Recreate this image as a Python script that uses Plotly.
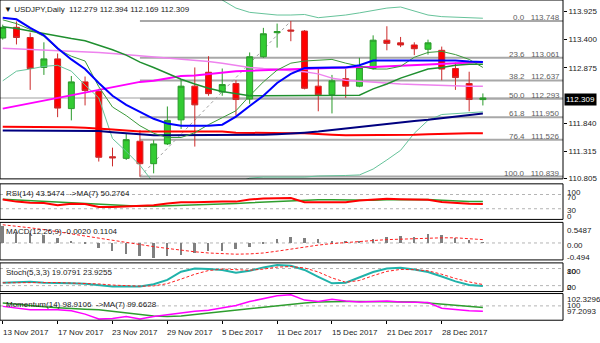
import plotly.graph_objects as go
from plotly.subplots import make_subplots

# ---------------- data ----------------
date_ticks = [0, 4, 8, 12, 16, 20, 24, 28, 32]
date_labels = ["13 Nov 2017", "17 Nov 2017", "23 Nov 2017", "29 Nov 2017", "5 Dec 2017",
               "11 Dec 2017", "15 Dec 2017", "21 Dec 2017", "28 Dec 2017"]

opens = [113.43, 113.63, 113.44, 112.88, 113.04, 112.11, 112.61, 112.43, 111.21, 111.18,
         111.50, 111.08, 111.45, 111.90, 112.53, 112.79, 112.42, 112.58, 112.29, 113.08,
         113.53, 113.58, 113.56, 112.53, 112.37, 112.67, 112.53, 112.86, 113.39, 113.34,
         113.30, 113.22, 113.20, 112.86, 112.58, 112.279]
highs = [113.68, 113.74, 113.53, 113.35, 113.14, 112.72, 112.71, 112.48, 111.38, 111.64,
         111.71, 111.52, 112.15, 112.66, 112.88, 113.09, 112.86, 112.64, 113.16, 113.62,
         113.70, 113.748, 113.58, 112.88, 112.74, 112.85, 113.06, 113.48, 113.65, 113.45,
         113.35, 113.40, 113.27, 112.97, 112.80, 112.394]
lows = [113.40, 113.31, 112.46, 112.74, 111.95, 111.89, 112.17, 111.12, 111.03, 111.15,
        110.839, 110.90, 111.43, 111.73, 111.40, 112.35, 112.35, 111.98, 112.20, 113.06,
        113.25, 113.37, 112.47, 112.06, 112.02, 112.31, 112.51, 112.84, 113.20, 113.26,
        113.11, 113.12, 112.64, 112.46, 112.06, 112.169]
closes = [113.63, 113.44, 112.86, 113.04, 112.12, 112.61, 112.45, 111.20, 111.19, 111.53,
          111.08, 111.45, 111.89, 112.53, 112.18, 112.39, 112.56, 112.28, 113.08, 113.51,
          113.55, 113.56, 112.49, 112.37, 112.63, 112.53, 112.88, 113.39, 113.33, 113.30,
          113.23, 113.34, 112.85, 112.69, 112.28, 112.309]

ma_blue = [113.81, 113.78, 113.62, 113.48, 113.24, 113.03, 112.85, 112.59, 112.35, 112.18,
           112.05, 111.92, 111.83, 111.79, 111.79, 111.79, 111.81, 111.96, 112.16, 112.35,
           112.59, 112.76, 112.87, 112.88, 112.88, 112.88, 112.92, 113.01, 113.01, 113.00,
           113.00, 113.01, 113.01, 113.01, 112.99, 112.98]
ma_thin_green = [113.77, 113.70, 113.59, 113.46, 113.22, 113.09, 113.00, 112.52, 112.14, 111.98,
                 111.79, 111.65, 111.57, 111.57, 111.66, 111.81, 111.94, 112.07, 112.35, 112.61,
                 112.83, 112.96, 113.00, 113.01, 113.03, 112.96, 112.90, 112.85, 112.85, 112.90,
                 113.07, 113.16, 113.18, 113.12, 113.03, 112.88]
bb_mid = [113.64, 113.61, 113.56, 113.51, 113.47, 113.42, 113.38, 113.30, 113.21, 113.11,
          112.98, 112.88, 112.77, 112.66, 112.57, 112.49, 112.43, 112.39, 112.35, 112.35,
          112.35, 112.35, 112.35, 112.35, 112.35, 112.35, 112.36, 112.48, 112.57, 112.68,
          112.77, 112.85, 112.88, 112.92, 112.94, 112.94]
bb_upper = [114.60, 114.45, 114.35, 114.30, 114.28, 114.30, 114.35, 114.45, 114.75, 114.95,
            115.00, 115.10, 115.05, 114.95, 114.80, 114.50, 114.14, 113.99, 113.91, 113.88,
            113.86, 113.86, 113.87, 113.81, 113.83, 113.86, 113.90, 113.95, 113.99, 114.01,
            113.94, 113.86, 113.83, 113.82, 113.81, 113.80]
bb_lower = [112.63, 112.81, 112.85, 112.90, 112.92, 112.81, 112.55, 112.31, 111.55, 111.31,
            111.05, 110.72, 110.53, 110.44, 110.41, 110.44, 110.53, 110.72, 110.81, 110.83,
            110.83, 110.83, 110.83, 110.85, 110.85, 110.86, 110.87, 110.98, 111.15, 111.33,
            111.65, 111.89, 112.00, 112.02, 112.04, 112.05]
ma_violet = [113.24, 113.23, 113.22, 113.21, 113.20, 113.19, 113.18, 113.16, 113.14, 113.12,
             113.10, 113.08, 113.06, 113.03, 113.01, 112.99, 112.96, 112.92, 112.88, 112.86,
             112.85, 112.82, 112.80, 112.76, 112.68, 112.64, 112.62, 112.60, 112.58, 112.57,
             112.56, 112.55, 112.55, 112.54, 112.53, 112.53]
ma_magenta = [112.11, 112.16, 112.22, 112.27, 112.32, 112.37, 112.41, 112.46, 112.52, 112.57,
              112.61, 112.63, 112.68, 112.72, 112.73, 112.76, 112.79, 112.81, 112.82, 112.83,
              112.84, 112.85, 112.85, 112.86, 112.87, 112.88, 112.89, 112.89, 112.90, 112.92,
              112.93, 112.94, 112.95, 112.96, 112.97, 112.98]
ma_red = [111.77, 111.77, 111.77, 111.77, 111.77, 111.76, 111.75, 111.74, 111.72, 111.70,
          111.68, 111.68, 111.68, 111.68, 111.68, 111.68, 111.68, 111.66, 111.655, 111.65,
          111.65, 111.65, 111.65, 111.63, 111.62, 111.61, 111.61, 111.61, 111.61, 111.615,
          111.62, 111.63, 111.64, 111.65, 111.65, 111.65]
ma_navy = [111.70, 111.70, 111.70, 111.70, 111.70, 111.70, 111.70, 111.69, 111.67, 111.65,
           111.62, 111.61, 111.61, 111.61, 111.61, 111.61, 111.61, 111.61, 111.61, 111.62,
           111.63, 111.64, 111.66, 111.68, 111.71, 111.74, 111.77, 111.79, 111.82, 111.85,
           111.88, 111.90, 111.93, 111.96, 111.99, 112.02]

fib_levels = [0.0, 23.6, 38.2, 50.0, 61.8, 76.4, 100.0]
fib_prices = [113.748, 113.061, 112.637, 112.293, 111.950, 111.526, 110.839]
price_ticks = [113.925, 113.400, 112.875, 111.840, 111.315, 110.805]

rsi = [56, 50, 47, 46, 40, 44, 43, 35, 35, 36, 37, 40, 45, 48, 48, 50, 50, 50, 56, 59,
       60, 60, 48.5, 48, 49, 48.5, 53, 56, 58, 57, 56, 55, 49, 46, 44, 43.5474]
rsi_ma = [57, 55, 53, 50, 47, 45, 43, 41, 39, 38, 37, 37, 38, 39, 40, 41, 43, 45, 47, 49,
          51, 53, 54, 55, 55, 54, 53, 54, 55, 56, 57, 56, 54, 52, 50.5, 50.2764]

macd_main = [0.5487, 0.31, 0.31, 0.25, 0.15, 0.05, -0.03, -0.18, -0.29, -0.37, -0.43, -0.494,
             -0.45, -0.40, -0.34, -0.29, -0.27, -0.21, -0.13, -0.02, 0.12, 0.20, 0.15, 0.11,
             0.06, 0.02, 0.06, 0.12, 0.19, 0.23, 0.20, 0.28, 0.24, 0.15, 0.07, -0.0020]
macd_signal = [0.60, 0.56, 0.50, 0.44, 0.37, 0.30, 0.22, 0.14, 0.07, 0.01, -0.06, -0.12,
               -0.18, -0.24, -0.29, -0.33, -0.36, -0.37, -0.36, -0.33, -0.27, -0.20, -0.13,
               -0.07, -0.02, 0.02, 0.05, 0.08, 0.11, 0.13, 0.15, 0.16, 0.17, 0.17, 0.15, 0.1104]

stoch_k = [30, 32, 34, 30, 28, 28, 27, 22, 17, 17, 17, 25, 40, 69, 80, 78, 75, 65, 72, 84,
           92, 90, 75, 51, 28, 30, 48, 68, 80, 83, 77, 68, 52, 35, 22, 19.0791]
stoch_d = [30, 30, 31, 32, 31, 29, 28, 26, 22, 19, 18, 19, 27, 43, 60, 73, 78, 76, 74, 78,
           85, 87, 82, 68, 47, 32, 38, 55, 70, 77, 76, 72, 60, 45, 33, 23.9255]

momentum = [99.9, 99.5, 99.2, 99.2, 99.2, 99.0, 98.3, 97.3, 97.4, 97.8, 97.3, 97.8, 98.2,
            98.6, 98.9, 99.1, 99.6, 100.1, 100.9, 101.5, 102.1, 102.3, 101.2, 100.9, 101.4,
            101.0, 100.8, 100.9, 101.0, 100.8, 100.7, 100.7, 99.5, 99.2, 99.0, 98.9106]
momentum_ma = [100.6, 100.3, 100.0, 99.8, 99.6, 99.4, 99.3, 99.2, 98.9, 98.5, 98.2, 97.9,
               97.8, 97.9, 98.2, 98.5, 98.9, 99.2, 99.5, 99.8, 100.1, 100.4, 100.6, 100.8,
               100.9, 100.9, 100.9, 100.9, 100.9, 100.9, 100.8, 100.6, 100.4, 100.1, 99.9, 99.6628]

bars = list(range(len(closes)))

# ---------------- geometry helpers ----------------
W, H = 600, 343
FONT = "Liberation Sans, Arial, sans-serif"
TXT = "#1a1a1a"
X_RANGE = [-0.2, 40.84]
LABEL_SHIFT = -3  # nudges middle-anchored labels onto their row


def py(px):
    """Pixel row -> paper y."""
    return 1 - px / H


panels = {  # top px, bottom px
    1: (0, 181),
    2: (186, 222),
    3: (225, 263),
    4: (266, 295),
    5: (297, 324),
}

fig = make_subplots(rows=5, cols=1, shared_xaxes=True, vertical_spacing=0)


def line(y, color, width, row, dash=None):
    fig.add_trace(go.Scatter(x=bars, y=y, mode="lines", hoverinfo="skip",
                             line=dict(color=color, width=width, dash=dash)),
                  row=row, col=1)


# ---- price panel ----
fig.add_trace(go.Candlestick(
    x=bars, open=opens, high=highs, low=lows, close=closes,
    increasing=dict(line=dict(color="#2a9a2a", width=1), fillcolor="#33cc33"),
    decreasing=dict(line=dict(color="#cc2a2a", width=1), fillcolor="#ff0000"),
    whiskerwidth=0, hoverinfo="skip"), row=1, col=1)

line(bb_upper, "#66c39a", 1, 1)
line(bb_lower, "#66c39a", 1, 1)
line(ma_violet, "#ee82ee", 1.5, 1)
line(ma_magenta, "#ff00ff", 2, 1)
line(ma_red, "#ff0000", 2, 1)
line(ma_navy, "#000080", 2, 1)
line(bb_mid, "#1f8f2f", 1.5, 1)
line(ma_thin_green, "#3a9a3a", 1, 1)
line(ma_blue, "#0000ff", 2, 1)

# ---- RSI ----
line(rsi_ma, "#2e9e2e", 1.5, 2)
line(rsi, "#ff0000", 2, 2)

# ---- MACD ----
fig.add_trace(go.Bar(x=bars, y=macd_main, width=0.14, marker=dict(color="#808080", line=dict(width=0)),
                     hoverinfo="skip"), row=3, col=1)
line(macd_signal, "#ff2020", 1, 3, dash="3px,2px")

# ---- Stochastic ----
line(stoch_k, "#20b2aa", 2, 4)
line(stoch_d, "#ff2020", 1, 4, dash="3px,2px")

# ---- Momentum ----
line(momentum_ma, "#2e9e2e", 1.5, 5)
line(momentum, "#ff00ff", 1.5, 5)

# ---------------- axes ----------------
y_ranges = {
    1: [110.796, 114.141],
    2: [0, 100],
    3: [-0.559, 0.679],
    4: [-0.8, 99.8],
    5: [97.03, 102.56],
}
for r in range(1, 6):
    top, bot = panels[r]
    fig.update_yaxes(row=r, col=1, domain=[py(bot), py(top)], range=y_ranges[r],
                     side="right", showgrid=False, zeroline=False, showline=False,
                     showticklabels=False, ticks="", fixedrange=True)
    fig.update_xaxes(row=r, col=1, range=X_RANGE, showgrid=False, zeroline=False,
                     showline=False, showticklabels=False, ticks="",
                     rangeslider_visible=False)

fig.update_yaxes(row=1, col=1, showticklabels=True, ticks="outside", ticklen=3,
                 tickcolor="black", tickvals=price_ticks,
                 ticktext=[f"{v:.3f}" for v in price_ticks],
                 tickfont=dict(family=FONT, size=8, color=TXT))
fig.update_xaxes(row=5, col=1, ticks="outside", ticklen=3, tickcolor="black",
                 tickvals=date_ticks)

shapes = []
annotations = []

# panel frames
for r, (top, bot) in panels.items():
    shapes.append(dict(type="rect", xref="paper", yref="paper", x0=0, x1=1,
                       y0=py(bot), y1=py(top), line=dict(color="black", width=1),
                       fillcolor="rgba(0,0,0,0)", layer="above"))

# fibonacci retracement
lo_idx = lows.index(min(lows))
hi_idx = highs.index(max(highs))
for lvl, price in zip(fib_levels, fib_prices):
    shapes.append(dict(type="line", xref="x", yref="y", x0=lo_idx, x1=X_RANGE[1],
                       y0=price, y1=price, line=dict(color="#a8a8a8", width=2), layer="below"))
    annotations.append(dict(xref="paper", yref="y", x=1, y=price, xanchor="right",
                            yanchor="bottom", xshift=-1, yshift=-3, showarrow=False,
                            text=f"{lvl:.1f}&nbsp;&nbsp;&nbsp;{price:.3f}",
                            font=dict(family=FONT, size=8, color="#606060")))
shapes.append(dict(type="line", xref="x", yref="y", x0=lo_idx, x1=hi_idx,
                   y0=min(lows), y1=max(highs), line=dict(color="#a0a0a0", width=1, dash="3px,3px"),
                   layer="below"))

# bid line
shapes.append(dict(type="line", xref="paper", yref="y", x0=0, x1=1, y0=closes[-1], y1=closes[-1],
                   line=dict(color="#cfcfcf", width=2), layer="below"))

# indicator levels
for yref, vals in (("y2", [70, 30]), ("y3", [0]), ("y4", [80, 20]), ("y5", [100])):
    for v in vals:
        shapes.append(dict(type="line", xref="paper", yref=yref, x0=0, x1=1, y0=v, y1=v,
                           line=dict(color="#b4b4b4", width=1, dash="3px,3px"), layer="below"))

# current price tag
annotations.append(dict(xref="paper", yref="y", x=1, y=closes[-1], xanchor="left", xshift=1,
                        yshift=LABEL_SHIFT + 1, showarrow=False, text=f"{closes[-1]:.3f}",
                        bgcolor="black", borderpad=1,
                        font=dict(family=FONT, size=8, color="white")))

# titles
titles = [
    (8.5, f"▼&nbsp;USDJPY,Daily&nbsp;&nbsp;{opens[-1]:.3f} {highs[-1]:.3f} {lows[-1]:.3f} {closes[-1]:.3f}"),
    (193, f"RSI(14) {rsi[-1]:.4f}&nbsp;&nbsp;-&gt;MA(7) {rsi_ma[-1]:.4f}"),
    (231, f"MACD(12,26,9) {macd_main[-1]:.4f} {macd_signal[-1]:.4f}"),
    (272.5, f"Stoch(5,3,3) {stoch_k[-1]:.4f} {stoch_d[-1]:.4f}"),
    (305, f"Momentum(14) {momentum[-1]:.4f}&nbsp;&nbsp;-&gt;MA(7) {momentum_ma[-1]:.4f}"),
]
for i, (ypx, text) in enumerate(titles):
    annotations.append(dict(xref="paper", yref="paper", x=0, y=py(ypx), xanchor="left",
                            yanchor="middle", xshift=2 if i == 0 else 4,
                            yshift=LABEL_SHIFT if i else -1, showarrow=False,
                            text=text, font=dict(family=FONT, size=8, color=TXT)))

# right-hand scale labels of the indicator windows
side_labels = [
    (192, "100"), (197.3, "70"), (210.3, "30"), (215.7, "0"),
    (229.7, f"{max(macd_main):.4f}"), (245.7, "0.00"), (258, f"{min(macd_main):.3f}"),
    (271.7, "100"), (271.7, "80"), (288.3, "20"), (288.3, "0"),
    (300, "102.3296"), (306, "100"), (311.7, "97.2093"),
]
for ypx, text in side_labels:
    annotations.append(dict(xref="paper", yref="paper", x=1, y=py(ypx), xanchor="left",
                            yanchor="middle", xshift=2, yshift=LABEL_SHIFT, showarrow=False,
                            text=text, font=dict(family=FONT, size=8, color=TXT)))

# date labels
for idx, text in zip(date_ticks, date_labels):
    annotations.append(dict(xref="x5", yref="paper", x=idx, y=py(333.5), xanchor="left",
                            yanchor="middle", xshift=-2, yshift=LABEL_SHIFT, showarrow=False,
                            text=text, font=dict(family=FONT, size=8, color=TXT)))

fig.update_layout(
    width=W, height=H, margin=dict(l=0, r=37, t=0, b=0),
    paper_bgcolor="white", plot_bgcolor="white", showlegend=False,
    boxgap=0.38, bargap=0, font=dict(family=FONT, size=8, color=TXT),
    shapes=shapes, annotations=annotations, hovermode=False,
)

fig.write_html("out.html")
